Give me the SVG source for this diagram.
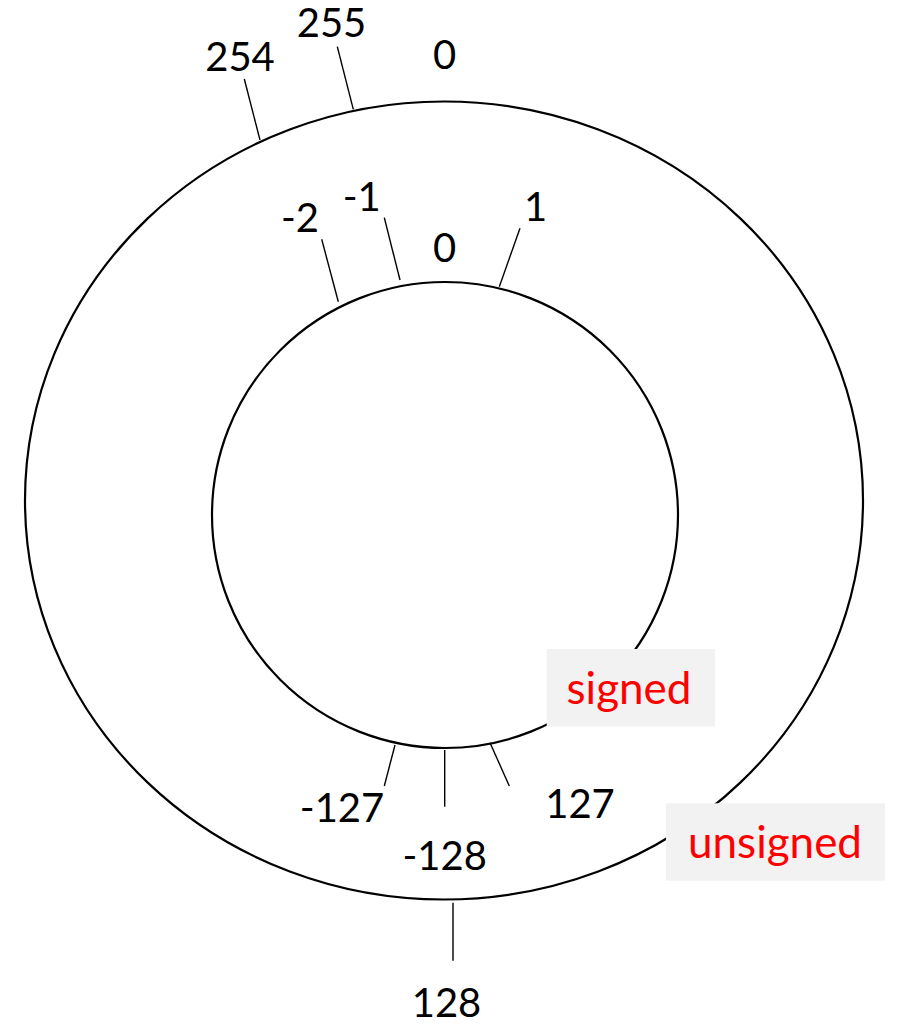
<svg xmlns="http://www.w3.org/2000/svg" width="902" height="1027" viewBox="0 0 902 1027">
<style>
.ring{fill:none;stroke:#000;stroke-width:2.2}
.tick{stroke:#000;stroke-width:1.4}
.lbl{font-family:Lato,"Open Sans",sans-serif;font-size:40px;fill:#000;text-anchor:middle}
.tag{font-family:Lato,"Open Sans",sans-serif;font-size:44px;fill:#ff0000;text-anchor:middle}
.box{fill:#f2f2f2}
</style>
<g id="outer-ring"><ellipse class="ring" cx="444" cy="500.5" rx="419" ry="399"/></g>
<g id="inner-ring"><circle class="ring" cx="445" cy="515" r="233"/></g>
<g id="connectors">
<line class="tick" x1="244.3" y1="79" x2="260" y2="140"/>
<line class="tick" x1="337.3" y1="46.7" x2="353.3" y2="109.3"/>
<line class="tick" x1="321.7" y1="239.3" x2="338.3" y2="301.7"/>
<line class="tick" x1="384.3" y1="217.7" x2="400" y2="280"/>
<line class="tick" x1="520" y1="228.3" x2="499.3" y2="286.7"/>
<line class="tick" x1="395" y1="745" x2="384.3" y2="786"/>
<line class="tick" x1="444.7" y1="750" x2="444.7" y2="806.7"/>
<line class="tick" x1="490" y1="742.7" x2="509.3" y2="786"/>
<line class="tick" x1="453" y1="902.7" x2="453" y2="960.7"/>
</g>
<g id="labels">
<text class="lbl" x="240" y="71">254</text>
<text class="lbl" x="331.5" y="37.3">255</text>
<text class="lbl" x="444.5" y="69.3">0</text>
<text class="lbl" x="300" y="231.7">-2</text>
<text class="lbl" x="361.7" y="211">-1</text>
<text class="lbl" x="444.5" y="261.7">0</text>
<text class="lbl" x="535.5" y="220.7">1</text>
<text class="lbl" x="342" y="821.7">-127</text>
<text class="lbl" x="580" y="817.7">127</text>
<text class="lbl" x="444.7" y="870">-128</text>
<text class="lbl" x="446.5" y="1017">128</text>
</g>
<g id="signed">
<rect class="box" x="546.7" y="649" width="168.3" height="77.7"/>
<text class="tag" x="629" y="704">signed</text>
</g>
<g id="unsigned">
<rect class="box" x="666" y="803.3" width="219" height="77.4"/>
<text class="tag" x="775" y="858.3">unsigned</text>
</g>
</svg>
